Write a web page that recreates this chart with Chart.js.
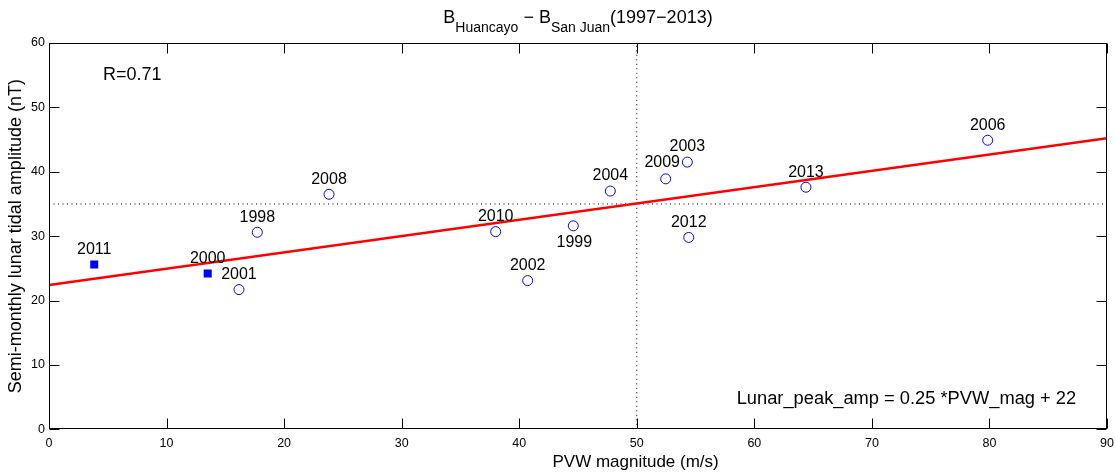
<!DOCTYPE html>
<html>
<head>
<meta charset="utf-8">
<script src="https://cdn.jsdelivr.net/npm/chart.js@4.4.0/dist/chart.umd.min.js"></script>
<style>
  html, body { margin: 0; padding: 0; background: #fff; }
  #wrap { width: 1115px; height: 473px; }
</style>
</head>
<body>
<div id="wrap"><canvas id="lunarChart" width="1115" height="473"></canvas></div>
<script>
// Data
const years = ['2011', '2000', '2001', '1998', '2008', '2010', '2002', '1999', '2004', '2009', '2003', '2012', '2013', '2006'];
const pvwMag = [3.85, 13.5, 16.16, 17.72, 23.82, 38.0, 40.72, 44.6, 47.75, 52.46, 54.3, 54.42, 64.39, 79.85];
const lunarAmp = [25.6, 24.2, 21.7, 30.6, 36.5, 30.7, 23.1, 31.6, 37.0, 38.9, 41.5, 29.8, 37.6, 44.9];
const filledYears = ['2011', '2000'];

// Fitted line end points and reference (dotted) lines
const fitX = [0, 90];
const fitY = [22.4, 45.2];
const refPvw = 50;
const refAmp = 35;

const xTicks = [0, 10, 20, 30, 40, 50, 60, 70, 80, 90];
const yTicks = [0, 10, 20, 30, 40, 50, 60];

const FONT = '"Liberation Sans", Arial, Helvetica, sans-serif';
const blue = '#0000ff';

// Build point lists
const openPts = [];
const filledPts = [];
years.forEach((yr, i) => {
    const p = { x: pvwMag[i], y: lunarAmp[i], year: yr };
    if (filledYears.includes(yr)) filledPts.push(p); else openPts.push(p);
});

// Label offsets (pixels) relative to each marker
const labelOffset = { '1999': [1, 21], '2009': [-3.5, -11.5] };
const defaultOffset = [0, -10.7];

// Plugin: title with subscripts, year labels, annotations, box with inward ticks
const decorations = {
    id: 'decorations',
    afterDatasetsDraw(chart) {
        const { ctx, chartArea: a, scales: { x, y } } = chart;
        ctx.save();

        // year labels
        ctx.fillStyle = '#000';
        ctx.font = '16px ' + FONT;
        ctx.textAlign = 'center';
        ctx.textBaseline = 'alphabetic';
        [1, 2].forEach(di => {
            const ds = chart.data.datasets[di];
            chart.getDatasetMeta(di).data.forEach((el, j) => {
                const yr = ds.data[j].year;
                const off = labelOffset[yr] || defaultOffset;
                ctx.fillText(yr, el.x + off[0], el.y + off[1]);
            });
        });

        // text annotations
        ctx.font = '18px ' + FONT;
        ctx.textAlign = 'left';
        ctx.fillText('R=0.71', x.getPixelForValue(4.6), y.getPixelForValue(54.2));
        ctx.font = '18.3px ' + FONT;
        ctx.fillText('Lunar_peak_amp = 0.25 *PVW_mag + 22', x.getPixelForValue(58.5), y.getPixelForValue(4.0));

        // axes box with inward ticks
        const L = Math.round(a.left) + 0.5, R = Math.round(a.right) - 0.5;
        const T = Math.round(a.top) + 0.5, B = Math.round(a.bottom) - 0.5;
        const tl = 10;
        ctx.strokeStyle = '#000';
        ctx.lineWidth = 1;
        ctx.beginPath();
        xTicks.forEach(v => {
            const px = Math.round(x.getPixelForValue(v)) + 0.5;
            ctx.moveTo(px, B); ctx.lineTo(px, B - tl);
            ctx.moveTo(px, T); ctx.lineTo(px, T + tl);
        });
        yTicks.forEach(v => {
            const py = Math.round(y.getPixelForValue(v)) + 0.5;
            ctx.moveTo(L, py); ctx.lineTo(L + tl, py);
            ctx.moveTo(R, py); ctx.lineTo(R - tl, py);
        });
        ctx.stroke();
        ctx.strokeRect(L, T, R - L, B - T);

        // x axis title
        ctx.font = '17px ' + FONT;
        ctx.textAlign = 'center';
        ctx.fillText('PVW magnitude (m/s)', x.getPixelForValue(49.9), 467);

        // main title: B_Huancayo - B_San Juan(1997-2013)
        const parts = [
            ['B', 18, 0], ['Huancayo', 14, 9], [' \u2212 B', 18, 0], ['San Juan', 14, 9], ['(1997\u22122013)', 18, 0]
        ];
        let w = 0;
        parts.forEach(p => { ctx.font = p[1] + 'px ' + FONT; w += ctx.measureText(p[0]).width; });
        let cx = (a.left + a.right) / 2 - w / 2;
        ctx.textAlign = 'left';
        parts.forEach(p => {
            ctx.font = p[1] + 'px ' + FONT;
            ctx.fillText(p[0], cx, 23 + p[2]);
            cx += ctx.measureText(p[0]).width;
        });

        ctx.restore();
    }
};

const ctx = document.getElementById('lunarChart').getContext('2d');

const lunarChart = new Chart(ctx, {
    type: 'scatter',
    data: {
        datasets: [
            {
                type: 'line',
                label: 'fit',
                data: fitX.map((v, i) => ({ x: v, y: fitY[i] })),
                borderColor: '#ff0000',
                borderWidth: 2.6,
                pointRadius: 0,
                fill: false,
                order: 1
            },
            {
                label: 'open',
                data: openPts,
                pointStyle: 'circle',
                pointRadius: 5,
                pointHoverRadius: 5,
                borderColor: blue,
                backgroundColor: 'rgba(0,0,0,0)',
                borderWidth: 1,
                order: 2
            },
            {
                label: 'filled',
                data: filledPts,
                pointStyle: 'rect',
                pointRadius: 5.7,
                pointHoverRadius: 5.7,
                borderColor: blue,
                backgroundColor: blue,
                borderWidth: 0,
                order: 2
            },
            {
                type: 'line',
                label: 'ref-h',
                data: [{ x: xTicks[0], y: refAmp }, { x: xTicks[xTicks.length - 1], y: refAmp }],
                borderColor: '#000',
                borderWidth: 1,
                borderDash: [1, 3.5],
                pointRadius: 0,
                order: 3
            },
            {
                type: 'line',
                label: 'ref-v',
                data: [{ x: refPvw, y: yTicks[0] }, { x: refPvw, y: yTicks[yTicks.length - 1] }],
                borderColor: '#000',
                borderWidth: 1,
                borderDash: [1, 3.5],
                pointRadius: 0,
                order: 3
            }
        ]
    },
    options: {
        responsive: false,
        animation: false,
        devicePixelRatio: 1,
        layout: { padding: { left: 0, right: 8, top: 43, bottom: 0 } },
        plugins: {
            legend: { display: false },
            tooltip: { enabled: false },
            title: { display: false }
        },
        scales: {
            x: {
                type: 'linear',
                min: 0,
                max: 90,
                afterBuildTicks: s => { s.ticks = xTicks.map(v => ({ value: v })); },
                afterFit: s => { s.height = 43.7; s.paddingLeft = 0; s.paddingRight = 0; },
                grid: { display: false, drawTicks: false },
                border: { display: false },
                ticks: {
                    color: '#000',
                    font: { family: FONT, size: 12.5 },
                    padding: 7,
                    maxRotation: 0
                }
            },
            y: {
                type: 'linear',
                min: 0,
                max: 60,
                afterBuildTicks: s => { s.ticks = yTicks.map(v => ({ value: v })); },
                afterFit: s => { s.width = 49; s.paddingTop = 0; s.paddingBottom = 0; },
                grid: { display: false, drawTicks: false },
                border: { display: false },
                ticks: {
                    color: '#000',
                    font: { family: FONT, size: 12.5 },
                    padding: 4
                },
                title: {
                    display: true,
                    text: 'Semi-monthly lunar tidal amplitude (nT)',
                    color: '#000',
                    font: { family: FONT, size: 18 },
                    padding: { top: 5, bottom: 0 }
                }
            }
        }
    },
    plugins: [decorations]
});
</script>
</body>
</html>
